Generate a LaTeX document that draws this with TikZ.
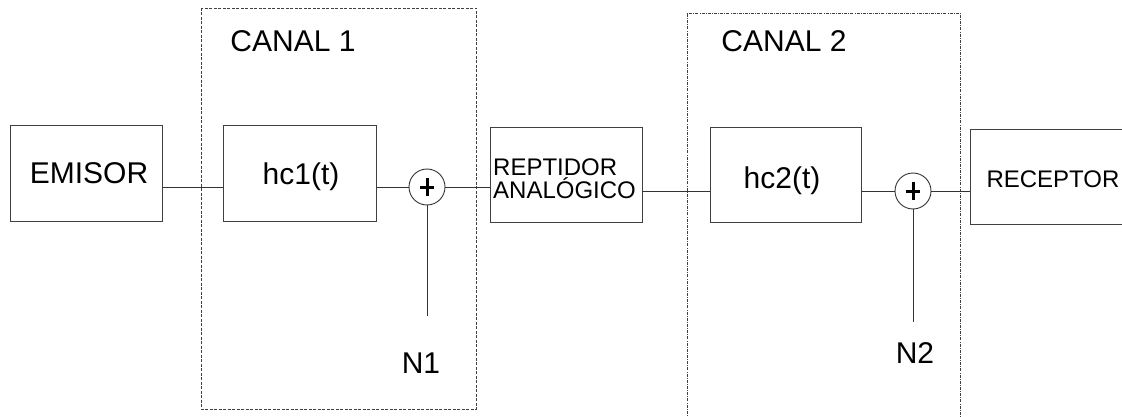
\documentclass[tikz,border=0pt]{standalone}
\usepackage{fontspec}
\setmainfont{Liberation Sans}
\begin{document}
\begin{tikzpicture}[x=1pt,y=-1pt,
  wire/.style={draw=black!80, line width=0.9pt},
  block/.style={draw=black!75, line width=0.9pt, inner sep=0pt, minimum height=96pt},
  summer/.style={circle, draw=black!80, line width=0.9pt, minimum size=36pt, inner sep=0pt},
  big/.style={font=\fontsize{30}{34}\selectfont, inner sep=0pt, anchor=base},
  small/.style={font=\fontsize{24}{23}\selectfont, inner sep=0pt},
  chan1/.style={draw=black!75, line width=0.8pt, dash pattern=on 3pt off 1.5pt},
  chan2/.style={draw=black!75, line width=0.8pt, dash pattern=on 3pt off 1.2pt on 0.8pt off 1.2pt},
  plus/.style={draw=black, line width=3pt}]
\useasboundingbox (0,0) rectangle (1122,417);

% channel frames
\draw[chan1] (201,8) rectangle (476,409);
\draw[chan2] (687,420) -- (687,13) -- (960,13) -- (960,420);
\node[big] (c1) at (293,52) {CANAL 1};
\node[big] (c2) at (784,52) {CANAL 2};

% blocks
\node[block, minimum width=152pt] (emi) at (86,173) {};
\node[big] (temi) at (89,183) {EMISOR};
\node[block, minimum width=153pt] (hc1) at (300,173) {};
\node[big] (thc1) at (301,185) {hc1(t)};
\node[block, minimum width=152pt, minimum height=95pt] (rep) at (566,174.5) {};
\node[small, align=left, anchor=base west] (trep) at (493,198) {REPTIDOR\\ANALÓGICO};
\node[block, minimum width=151pt, minimum height=95pt] (hc2) at (785.5,174.5) {};
\node[big] (thc2) at (782,188) {hc2(t)};
\node[block, minimum width=166pt, minimum height=95pt] (rec) at (1053,176.5) {};
\node[small, anchor=base] (trec) at (1053,187) {RECEPTOR};

% adders
\node[summer] (s1) at (427,187) {};
\node[summer] (s2) at (913,191) {};
\draw[plus] ([xshift=-7pt]s1.center) -- ([xshift=7pt]s1.center);
\draw[plus] ([yshift=-9pt]s1.center) -- ([yshift=9pt]s1.center);
\draw[plus] ([xshift=-7pt]s2.center) -- ([xshift=7pt]s2.center);
\draw[plus] ([yshift=-9pt]s2.center) -- ([yshift=9pt]s2.center);

% noise inputs
\coordinate (n1) at (427,316);
\coordinate (n2) at (913,322);
\node[big] (ln1) at (421,373) {N1};
\node[big] (ln2) at (915,363) {N2};

% signal path
\draw[wire] (emi.east |- s1) -- (hc1.west |- s1);
\draw[wire] (hc1.east |- s1) -- (s1.west);
\draw[wire] (s1.east) -- (rep.west |- s1);
\draw[wire] (rep.east |- s2) -- (hc2.west |- s2);
\draw[wire] (hc2.east |- s2) -- (s2.west);
\draw[wire] (s2.east) -- (rec.west |- s2);
\draw[wire] (s1.south) -- (n1);
\draw[wire] (s2.south) -- (n2);
\end{tikzpicture}
\end{document}
